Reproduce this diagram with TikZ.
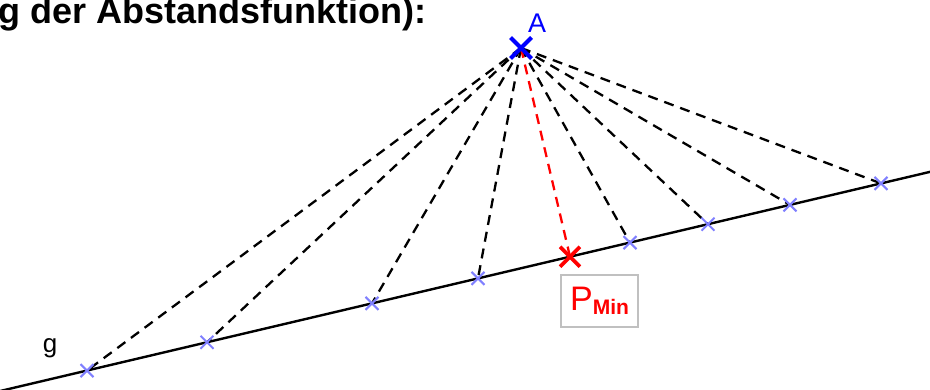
\documentclass[tikz,border=0pt]{standalone}
\usepackage{fontspec}
\setmainfont{Liberation Sans}
\usetikzlibrary{shapes.misc}
\definecolor{ptblue}{RGB}{128,128,255}
\definecolor{aBlue}{RGB}{0,0,255}
\definecolor{pRed}{RGB}{255,0,0}
\definecolor{boxgray}{RGB}{192,192,192}
\tikzset{
  dashline/.style={line width=2.3pt, dash pattern=on 10pt off 7pt},
  ptmark/.style={cross out, draw=ptblue, line width=2pt, minimum size=11pt, inner sep=0pt},
  amark/.style={cross out, draw=aBlue, line width=4pt, minimum size=17pt, inner sep=0pt},
  minmark/.style={cross out, draw=pRed, line width=3.8pt, minimum size=16pt, inner sep=0pt},
}
\begin{document}
\begin{tikzpicture}[x=1pt,y=-1pt]
\useasboundingbox (0,0) rectangle (930,389);
\clip (0,0) rectangle (930,389);
% title (cut off at the top)
\node[anchor=base west, inner sep=0pt, font=\fontsize{36}{40}\selectfont\bfseries] (title) at (-2,23) {g der Abstandsfunktion):};
% coordinates
\coordinate (A) at (521,48);
\coordinate (gL) at (-10,393.4);
\coordinate (gR) at (940,169.5);
\coordinate (p1) at (87,370.6);
\coordinate (p2) at (207,342.3);
\coordinate (p3) at (372,303.4);
\coordinate (p4) at (478,278.4);
\coordinate (pm) at (570,256.7);
\coordinate (p6) at (630,242.6);
\coordinate (p7) at (708,224.2);
\coordinate (p8) at (790,204.9);
\coordinate (p9) at (881,183.4);
% line g
\draw[line width=2.4pt] (gL) -- (gR);
% dashed connectors
\foreach \p in {p1,p2,p3,p4,p6,p7,p8,p9}
  \draw[dashline] (A) -- (\p);
\draw[dashline, pRed] (A) -- (pm);
% marks
\foreach \p in {p1,p2,p3,p4,p6,p7,p8,p9}
  \node[ptmark] (m\p) at (\p) {};
\node[minmark] (mpm) at (pm) {};
\node[amark] (mA) at (A) {};
% labels
\node[anchor=base, inner sep=0pt, text=aBlue, font=\fontsize{27}{27}\selectfont] (labA) at (537,32) {A};
\node[anchor=base, inner sep=0pt, font=\fontsize{26}{26}\selectfont] (labg) at (50,352) {g};
\node[draw=boxgray, line width=2.2pt, fill=white, minimum width=77pt, minimum height=52pt, inner sep=0pt, text=pRed] (labP) at (599.5,301)
  {{\fontsize{34}{34}\selectfont P}{\fontsize{21}{21}\selectfont\bfseries\raisebox{-4pt}{Min}}};
\end{tikzpicture}
\end{document}
